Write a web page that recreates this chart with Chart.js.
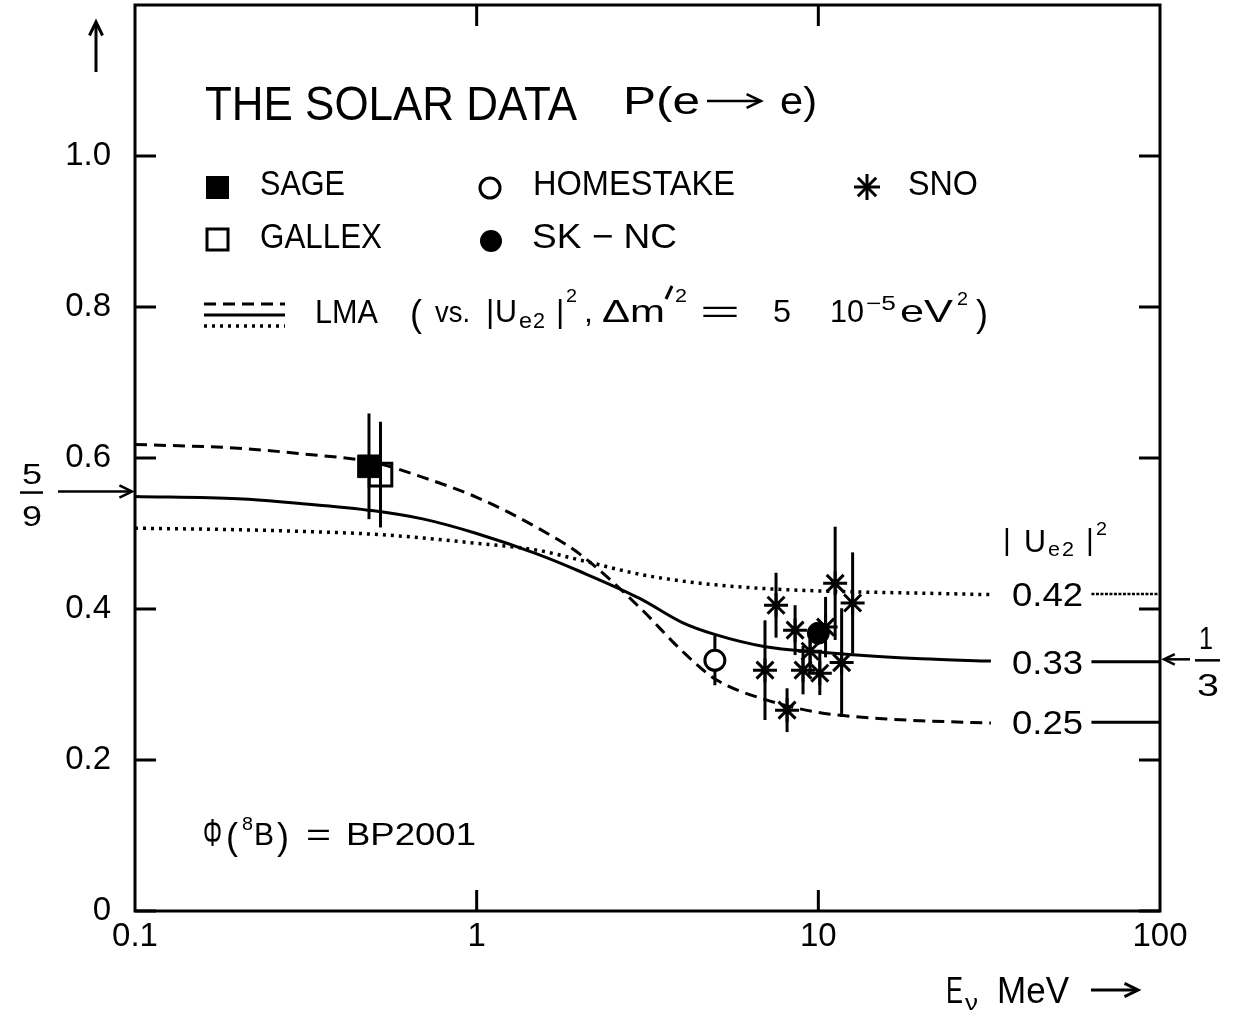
<!DOCTYPE html>
<html>
<head>
<meta charset="utf-8">
<title>The solar data P(e → e)</title>
<script src="https://cdn.jsdelivr.net/npm/chart.js@4.4.1/dist/chart.umd.min.js"></script>
<style>
  html, body { margin: 0; padding: 0; background: #fff; }
  canvas { display: block; }
</style>
</head>
<body>
<canvas id="solar" width="1243" height="1011"></canvas>
<script>
const FONT = '"Liberation Sans", Arial, sans-serif';

// energies (MeV) where the three LMA curves are sampled
const energies  = [0.1, 0.2, 0.3, 0.5, 0.7, 1, 1.5, 2, 3, 4, 5, 7, 10, 15, 20, 32];
const lmaDashed = [0.618, 0.613, 0.606, 0.594, 0.574, 0.548, 0.508, 0.473, 0.402, 0.344, 0.307, 0.280, 0.263, 0.255, 0.252, 0.249];
const lmaSolid  = [0.549, 0.546, 0.540, 0.530, 0.519, 0.500, 0.473, 0.450, 0.414, 0.382, 0.366, 0.350, 0.343, 0.337, 0.334, 0.331];
const lmaDotted = [0.507, 0.505, 0.503, 0.499, 0.494, 0.487, 0.478, 0.465, 0.446, 0.437, 0.432, 0.427, 0.424, 0.422, 0.421, 0.419];

// high-energy limits, one per |Ue2|^2 value
const asymptotes = [0.42, 0.33, 0.25];
const asymptoteRange = [63, 100];

// measurements
const sageE = [0.484],      sageP = [0.589],      sageErr = [0.07];
const gallexE = [0.523],    gallexP = [0.578],    gallexErr = [0.07];
const homestakeE = [4.98],  homestakeP = [0.332], homestakeErr = [0.033];
const skncE = [10.0],       skncP = [0.368],      skncErr = [0];
const snoE   = [7.52, 8.55, 6.98, 8.10, 9.02, 10.1, 11.2, 12.6, 11.7, 10.5, 9.46];
const snoP   = [0.405, 0.372, 0.319, 0.266, 0.319, 0.315, 0.434, 0.408, 0.329, 0.376, 0.344];
const snoErr = [0.043, 0.033, 0.066, 0.029, 0.032, 0.029, 0.075, 0.067, 0.072, 0.040, 0.030];

const xTicks = [0.1, 1, 10, 100];
const xTickLabels = ['0.1', '1', '10', '100'];
const yTicks = [0, 0.2, 0.4, 0.6, 0.8, 1.0];
const yTickLabels = ['0', '0.2', '0.4', '0.6', '0.8', '1.0'];

const FRAME_TOP = 5;

const pts = (xs, ys) => xs.map((x, i) => ({ x: x, y: ys[i] }));

function curve(ys, dash) {
  return {
    data: pts(energies, ys), showLine: true, borderColor: '#000', borderWidth: 3,
    borderDash: dash, pointRadius: 0, cubicInterpolationMode: 'monotone', fill: false
  };
}

function marks(xs, ys, errs, style, r, bg, bw) {
  return {
    data: pts(xs, ys), errors: errs, showLine: false, pointStyle: style, pointRadius: r,
    backgroundColor: bg, borderColor: '#000', borderWidth: bw
  };
}

// text, optionally stretched/squeezed to a given width
function put(ctx, s, x, y, size, w) {
  ctx.font = size + 'px ' + FONT;
  ctx.textAlign = 'left';
  ctx.textBaseline = 'alphabetic';
  ctx.fillStyle = '#000';
  if (!w) { ctx.fillText(s, x, y); return; }
  const k = w / ctx.measureText(s).width;
  ctx.save();
  ctx.translate(x, y);
  ctx.scale(k, 1);
  ctx.fillText(s, 0, 0);
  ctx.restore();
}

function line(ctx, x1, y1, x2, y2, w, dash) {
  ctx.save();
  ctx.lineWidth = w;
  ctx.setLineDash(dash || []);
  ctx.beginPath();
  ctx.moveTo(x1, y1);
  ctx.lineTo(x2, y2);
  ctx.stroke();
  ctx.restore();
}

function arrow(ctx, x1, y1, x2, y2, head, w) {
  const a = Math.atan2(y2 - y1, x2 - x1);
  line(ctx, x1, y1, x2, y2, w);
  ctx.save();
  ctx.lineWidth = w;
  ctx.beginPath();
  ctx.moveTo(x2 - head * Math.cos(a - 0.45), y2 - head * Math.sin(a - 0.45));
  ctx.lineTo(x2, y2);
  ctx.lineTo(x2 - head * Math.cos(a + 0.45), y2 - head * Math.sin(a + 0.45));
  ctx.stroke();
  ctx.restore();
}

function star(ctx, x, y, r, w) {
  const d = r * Math.SQRT1_2;
  line(ctx, x - r, y, x + r, y, w);
  line(ctx, x, y - r, x, y + r, w);
  line(ctx, x - d, y - d, x + d, y + d, w);
  line(ctx, x - d, y + d, x + d, y - d, w);
}

// the y scale keeps some headroom for its labels; stretch it up to the frame top
const pinTop = {
  id: 'pinTop',
  afterLayout(chart) {
    const a = chart.chartArea, y = chart.scales.y;
    a.top = FRAME_TOP;
    a.height = a.bottom - a.top;
    y.top = FRAME_TOP;
    y.height = y.bottom - y.top;
    y.configure();
  }
};

const errorBars = {
  id: 'errorBars',
  beforeDatasetsDraw(chart) {
    const ctx = chart.ctx, xs = chart.scales.x, ys = chart.scales.y;
    ctx.save();
    ctx.strokeStyle = '#000';
    chart.data.datasets.forEach(ds => {
      if (!ds.errors) return;
      ds.data.forEach((p, i) => {
        const e = ds.errors[i];
        if (!e) return;
        const px = xs.getPixelForValue(p.x);
        line(ctx, px, ys.getPixelForValue(p.y + e), px, ys.getPixelForValue(p.y - e), 3);
      });
    });
    ctx.restore();
  }
};

const frame = {
  id: 'frame',
  afterDraw(chart) {
    const ctx = chart.ctx, a = chart.chartArea;
    const X = v => chart.scales.x.getPixelForValue(v);
    const Y = v => chart.scales.y.getPixelForValue(v);
    ctx.save();
    ctx.strokeStyle = '#000';
    ctx.fillStyle = '#000';
    ctx.lineCap = 'butt';

    // box and inward ticks
    ctx.lineWidth = 3;
    ctx.strokeRect(a.left, a.top, a.right - a.left, a.bottom - a.top);
    yTicks.forEach(v => {
      line(ctx, a.left, Y(v), a.left + 21, Y(v), 3);
      line(ctx, a.right, Y(v), a.right - 21, Y(v), 3);
    });
    xTicks.slice(1, -1).forEach(v => {
      line(ctx, X(v), a.bottom, X(v), a.bottom - 21, 3);
      line(ctx, X(v), a.top, X(v), a.top + 21, 3);
    });

    // axis arrows and titles
    arrow(ctx, 96, 72, 96, 22, 15, 3);
    put(ctx, 'E', 946, 1003, 36, 17);
    put(ctx, 'ν', 965, 1010, 22, 13);
    put(ctx, 'MeV', 997, 1003, 36, 72);
    arrow(ctx, 1091, 990, 1138, 990, 15, 3);

    // 5/9 on the left, 1/3 on the right
    const y59 = Y(5 / 9), y13 = Y(1 / 3);
    put(ctx, '5', 22, y59 - 8, 30, 20);
    line(ctx, 20, y59 + 1, 43, y59 + 1, 2.5);
    put(ctx, '9', 22, y59 + 34, 30, 20);
    arrow(ctx, 58, y59, a.left - 3, y59, 14, 2.5);
    arrow(ctx, 1190, y13, a.right + 4, y13, 12, 2.5);
    put(ctx, '1', 1199, y13 - 10, 32, 14);
    line(ctx, 1195, y13 + 1, 1220, y13 + 1, 2.5);
    put(ctx, '3', 1197, y13 + 37, 32, 22);

    // title
    put(ctx, 'THE SOLAR DATA', 205, 120, 48, 372);
    put(ctx, 'P(e', 623, 114, 38, 77);
    arrow(ctx, 707, 101, 761, 101, 16, 2.5);
    put(ctx, 'e)', 780, 114, 38, 37);

    // legend markers
    ctx.fillRect(206, 176, 23, 23);
    ctx.lineWidth = 3;
    ctx.strokeRect(207, 229, 21, 21);
    ctx.beginPath();
    ctx.arc(490, 188, 10, 0, Math.PI * 2);
    ctx.stroke();
    ctx.beginPath();
    ctx.arc(491, 241, 11, 0, Math.PI * 2);
    ctx.fill();
    star(ctx, 867, 187, 13, 3);
    put(ctx, 'SAGE', 260, 195, 35, 85);
    put(ctx, 'GALLEX', 260, 248, 35, 122);
    put(ctx, 'HOMESTAKE', 533, 195, 35, 202);
    put(ctx, 'SK − NC', 532, 248, 35, 145);
    put(ctx, 'SNO', 908, 195, 35, 70);

    // LMA line styles
    line(ctx, 204, 304, 285, 304, 3, [12, 7]);
    line(ctx, 204, 315, 285, 315, 3);
    line(ctx, 204, 326, 285, 326, 3.5, [3, 5]);
    put(ctx, 'LMA', 315, 323, 34, 63);
    put(ctx, '(', 410, 326, 36);
    put(ctx, 'vs.', 435, 322, 30, 35);
    put(ctx, '|', 486, 322, 32);
    put(ctx, 'U', 495, 322, 32, 22);
    put(ctx, 'e', 519, 328, 22, 13);
    put(ctx, '2', 533, 328, 22, 12);
    put(ctx, '|', 556, 322, 32);
    put(ctx, '2', 566, 302, 19, 11);
    put(ctx, ',', 584, 322, 32);
    put(ctx, 'Δm', 602, 322, 32, 63);
    line(ctx, 672, 286, 666, 299, 3);
    put(ctx, '2', 675, 302, 19, 12);
    put(ctx, '=', 700, 322, 32, 40);
    put(ctx, '5', 773, 322, 32, 18);
    put(ctx, '10', 830, 322, 32, 34);
    put(ctx, '−5', 866, 310, 20, 30);
    put(ctx, 'eV', 900, 322, 32, 53);
    put(ctx, '2', 957, 305, 19, 11);
    put(ctx, ')', 976, 326, 36);

    // flux normalisation
    put(ctx, 'Φ', 203, 846, 38, 19);
    put(ctx, '(', 226, 849, 36);
    put(ctx, '8', 242, 830, 18, 11);
    put(ctx, 'B', 254, 845, 32, 20);
    put(ctx, ')', 277, 849, 36);
    put(ctx, '=', 306, 845, 32, 25);
    put(ctx, 'BP2001', 346, 845, 32, 130);

    // |Ue2|^2 values at the right
    put(ctx, '|', 1003, 550, 30);
    put(ctx, 'U', 1024, 552, 32, 22);
    put(ctx, 'e', 1048, 556, 20, 12);
    put(ctx, '2', 1062, 556, 20, 12);
    put(ctx, '|', 1086, 550, 30);
    put(ctx, '2', 1096, 535, 19, 11);
    asymptotes.forEach(v => put(ctx, v.toFixed(2), 1012, Y(v) + 12, 34, 71));

    ctx.restore();
  }
};

new Chart(document.getElementById('solar'), {
  type: 'scatter',
  data: {
    datasets: [
      marks(sageE, sageP, sageErr, 'rect', 16, '#000', 1),
      marks(gallexE, gallexP, gallexErr, 'rect', 16, 'rgba(0,0,0,0)', 3),
      marks(skncE, skncP, skncErr, 'circle', 11, '#000', 1),
      marks(homestakeE, homestakeP, homestakeErr, 'circle', 10, '#fff', 3),
      marks(snoE, snoP, snoErr, 'star', 12, '#000', 3),
      curve(lmaDashed, [12, 7]),
      curve(lmaSolid, []),
      Object.assign(curve(lmaDotted, [3, 5]), { borderWidth: 3.5 }),
      ...asymptotes.map((v, i) => ({
        data: pts(asymptoteRange, [v, v]), showLine: true, pointRadius: 0,
        borderColor: '#000', borderWidth: i === 0 ? 2.5 : 3, borderDash: i === 0 ? [3, 1.5] : []
      }))
    ]
  },
  options: {
    responsive: false,
    animation: false,
    events: [],
    layout: { padding: { left: 0, right: 83, top: FRAME_TOP, bottom: 0 } },
    plugins: { legend: { display: false }, tooltip: { enabled: false } },
    scales: {
      x: {
        type: 'logarithmic', min: 0.1, max: 100,
        grid: { display: false, drawTicks: false },
        border: { display: false },
        afterBuildTicks: s => { s.ticks = xTicks.map(v => ({ value: v })); },
        afterFit: s => { s.height = 100; s.paddingLeft = 0; s.paddingRight = 0; },
        ticks: {
          autoSkip: false, maxRotation: 0, padding: 6, color: '#000',
          font: { family: FONT, size: 33 },
          callback: (v, i) => xTickLabels[i]
        }
      },
      y: {
        type: 'linear', min: 0, max: 1.2,
        grid: { display: false, drawTicks: false },
        border: { display: false },
        afterBuildTicks: s => { s.ticks = yTicks.map(v => ({ value: v })); },
        afterFit: s => { s.width = 135; s.paddingTop = 0; s.paddingBottom = 0; },
        ticks: {
          padding: 24, color: '#000',
          font: { family: FONT, size: 33 },
          callback: (v, i) => yTickLabels[i]
        }
      }
    }
  },
  plugins: [pinTop, errorBars, frame]
});
</script>
</body>
</html>
